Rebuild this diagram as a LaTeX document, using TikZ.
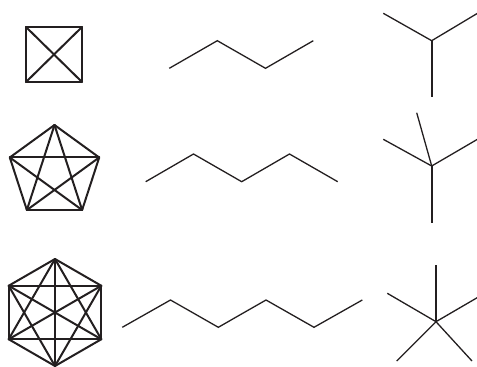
\documentclass[tikz,border=0pt]{standalone}
\begin{document}
\begin{tikzpicture}[x=1pt,y=-1pt,
  graphedge/.style={draw=ink,line width=2pt,line cap=round,line join=round},
  pathedge/.style={draw=ink,line width=1.3pt,line join=miter},
  thinray/.style={draw=ink,line width=1.3pt},
  thickray/.style={draw=ink,line width=2pt}]
\definecolor{ink}{HTML}{231F20}
\useasboundingbox (0,0) rectangle (477,367);
\clip (0,0) rectangle (477,367);
% K4
\coordinate (a1) at (26,27); \coordinate (a2) at (82,27);
\coordinate (a3) at (82,82); \coordinate (a4) at (26,82);
\foreach \i/\j in {1/2,2/3,3/4,4/1,1/3,2/4} \draw[graphedge] (a\i) -- (a\j);
% K5
\foreach \k in {0,...,4} \coordinate (b\k) at ({54.5+47*cos(90+72*\k)},{172-47*sin(90+72*\k)});
\foreach \i in {0,...,4}{\foreach \j in {0,...,4}{\ifnum\i<\j \draw[graphedge] (b\i) -- (b\j);\fi}}
% K6
\foreach \k in {0,...,5} \coordinate (c\k) at ({55+53.5*cos(90+60*\k)},{312.5-53.5*sin(90+60*\k)});
\foreach \i in {0,...,5}{\foreach \j in {0,...,5}{\ifnum\i<\j \draw[graphedge] (c\i) -- (c\j);\fi}}
% paths
\coordinate (p1) at (169.3,68.3); \coordinate (p2) at (217.3,40.7);
\coordinate (p3) at (265.5,68.3); \coordinate (p4) at (313.3,40.7);
\draw[pathedge] (p1) -- (p2) -- (p3) -- (p4);
\coordinate (q1) at (145.7,181.7); \coordinate (q2) at (193.5,154);
\coordinate (q3) at (241.7,181.7); \coordinate (q4) at (289.5,154);
\coordinate (q5) at (337.7,181.7);
\draw[pathedge] (q1) -- (q2) -- (q3) -- (q4) -- (q5);
\coordinate (r1) at (122.3,327.3); \coordinate (r2) at (170.5,300);
\coordinate (r3) at (218.3,327.3); \coordinate (r4) at (266,300);
\coordinate (r5) at (314,327.3); \coordinate (r6) at (362.3,300);
\draw[pathedge] (r1) -- (r2) -- (r3) -- (r4) -- (r5) -- (r6);
% star 1
\coordinate (s0) at (431.7,40.7);
\coordinate (s1) at (383.3,13.3); \coordinate (s2) at (480,11.8); \coordinate (s3) at (431.7,96.7);
\draw[thinray] (s1) -- (s0) -- (s2);
\draw[thickray] (s0) -- (s3);
% star 2
\coordinate (t0) at (431.7,166);
\coordinate (t1) at (383.3,139.3); \coordinate (t2) at (416.7,112.7);
\coordinate (t3) at (480,137.8); \coordinate (t4) at (431.7,222.7);
\draw[thinray] (t1) -- (t0) -- (t3);
\draw[thinray] (t2) -- (t0);
\draw[thickray] (t0) -- (t4);
% star 3
\coordinate (u0) at (436,321.7);
\coordinate (u1) at (436,265); \coordinate (u2) at (387.3,293.3);
\coordinate (u3) at (484.7,293.3); \coordinate (u4) at (396.7,361);
\coordinate (u5) at (472,361);
\draw[thickray] (u0) -- (u1);
\draw[thinray] (u2) -- (u0) -- (u3);
\draw[thinray] (u4) -- (u0) -- (u5);
\end{tikzpicture}
\end{document}
